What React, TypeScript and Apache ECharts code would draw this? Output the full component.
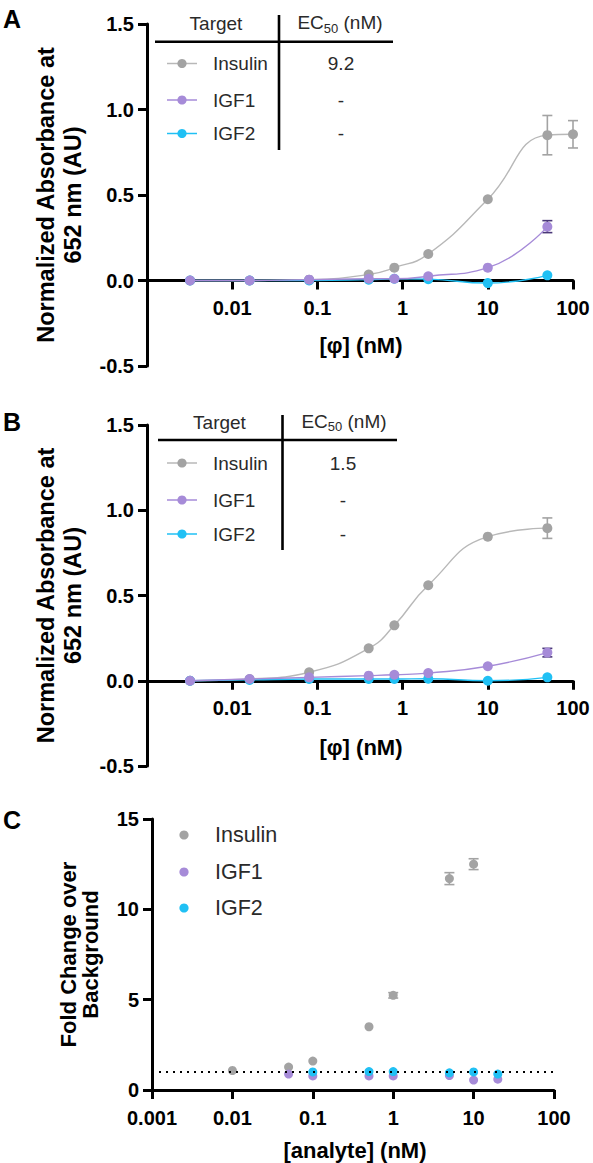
import React, { useEffect, useRef } from "react";
import * as echarts from "echarts";

// ---------- Panels A and B: absorbance dose–response ----------
const concAB = [0.0032, 0.016, 0.08, 0.4, 0.8, 2, 10, 50, 100];

const insulinA = [0.0, 0.0, 0.005, 0.035, 0.075, 0.155, 0.475, 0.85, 0.855];
const insulinAErr = [0, 0, 0, 0, 0, 0, 0, 0.115, 0.08];
const igf1A = [0.0, 0.0, 0.005, 0.01, 0.01, 0.025, 0.075, 0.315];
const igf1AErr = [0, 0, 0, 0, 0, 0, 0, 0.035];
const igf2A = [0.0, 0.0, 0.0, 0.005, 0.01, 0.008, -0.015, 0.03];

const insulinB = [0.0, 0.01, 0.05, 0.19, 0.325, 0.56, 0.845, 0.895];
const insulinBErr = [0, 0, 0, 0, 0, 0, 0, 0.06];
const igf1B = [0.0, 0.01, 0.02, 0.03, 0.035, 0.045, 0.085, 0.165];
const igf1BErr = [0, 0, 0, 0, 0, 0, 0, 0.025];
const igf2B = [0.0, 0.005, 0.01, 0.01, 0.01, 0.012, 0.0, 0.02];

const targets = ["Insulin", "IGF1", "IGF2"];
const ec50A = ["9.2", "-", "-"];
const ec50B = ["1.5", "-", "-"];

// ---------- Panel C: fold change ----------
const insulinCX = [0.01, 0.05, 0.1, 0.5, 1, 5, 10];
const insulinCY = [1.08, 1.27, 1.6, 3.5, 5.24, 11.7, 12.5];
const insulinCErr = [0, 0, 0, 0, 0.15, 0.33, 0.3];
const igf1CX = [0.05, 0.1, 0.5, 1, 5, 10, 20];
const igf1CY = [0.88, 0.78, 0.78, 0.78, 0.8, 0.55, 0.6];
const igf2CX = [0.1, 0.5, 1, 5, 10, 20];
const igf2CY = [1.0, 1.02, 1.02, 0.95, 1.0, 0.88];
const baseline = 1;

const absTicks = [-0.5, 0, 0.5, 1, 1.5];
const foldTicks = [0, 5, 10, 15];

const GRAY = "#a3a3a3";
const GRAY_LINE = "#b8b8b8";
const PURPLE = "#a68bd8";
const PURPLE_DARK = "#4a3878";
const BLUE = "#20c0f4";
const colors = [GRAY, PURPLE, BLUE];
const lineColors = [GRAY_LINE, PURPLE, BLUE];

const FONT = 'Arial, "Liberation Sans", Helvetica, sans-serif';

const pairs = (xs: number[], ys: number[]) => ys.map((y, i) => [xs[i], y]);
const errTriples = (xs: number[], ys: number[], es: number[]) =>
  ys.map((y, i) => [xs[i], y, es[i] || 0]).filter((d) => d[2] > 0);

const logLabel = (hideMin: boolean) => (v: number) => {
  if (hideMin && v < 0.0015) return "";
  return String(Number(v.toPrecision(2)));
};

function errorBars(idx: number, data: number[][], color: string) {
  return {
    type: "custom",
    xAxisIndex: idx,
    yAxisIndex: idx,
    data,
    encode: { x: 0, y: 1 },
    z: 1,
    renderItem: (_p: any, api: any) => {
      const x = api.value(0);
      const y = api.value(1);
      const e = api.value(2);
      const top = api.coord([x, y + e]);
      const bot = api.coord([x, y - e]);
      const hw = 5;
      const style = { stroke: color, lineWidth: 1.6 };
      return {
        type: "group",
        children: [
          { type: "line", shape: { x1: top[0], y1: top[1], x2: bot[0], y2: bot[1] }, style },
          { type: "line", shape: { x1: top[0] - hw, y1: top[1], x2: top[0] + hw, y2: top[1] }, style },
          { type: "line", shape: { x1: bot[0] - hw, y1: bot[1], x2: bot[0] + hw, y2: bot[1] }, style },
        ],
      };
    },
  };
}

function curve(idx: number, name: string, ys: number[], ci: number, z: number) {
  return {
    type: "line",
    name,
    xAxisIndex: idx,
    yAxisIndex: idx,
    data: pairs(concAB, ys),
    smooth: 0.5,
    symbol: "circle",
    symbolSize: 10,
    showSymbol: true,
    z,
    itemStyle: { color: colors[ci] },
    lineStyle: { color: lineColors[ci], width: 1.4 },
  };
}

function dots(name: string, xs: number[], ys: number[], ci: number, extra: any = {}) {
  return {
    type: "scatter",
    name,
    xAxisIndex: 2,
    yAxisIndex: 2,
    data: pairs(xs, ys),
    symbol: "circle",
    symbolSize: 9,
    z: 3,
    itemStyle: { color: colors[ci], opacity: 1 },
    ...extra,
  };
}

const axisCommon = {
  axisLine: { show: true, onZero: false, lineStyle: { color: "#000", width: 3 } },
  axisTick: { show: true, length: 9, lineStyle: { color: "#000", width: 3 } },
  splitLine: { show: false },
};

// offset lifts the axis from the bottom of the grid up to the y = 0 line
function logXAxis(gridIndex: number, hideMin: boolean, margin: number, offset: number) {
  return {
    gridIndex,
    type: "log",
    logBase: 10,
    min: 0.001,
    max: 100,
    offset,
    ...axisCommon,
    axisLabel: {
      formatter: logLabel(hideMin),
      fontFamily: FONT,
      fontSize: 20,
      fontWeight: "bold",
      color: "#000",
      margin,
    },
  };
}

function valueYAxis(gridIndex: number, ticks: number[], digits: number) {
  return {
    gridIndex,
    type: "value",
    min: ticks[0],
    max: ticks[ticks.length - 1],
    interval: ticks[1] - ticks[0],
    ...axisCommon,
    axisLabel: {
      formatter: (v: number) => v.toFixed(digits),
      fontFamily: FONT,
      fontSize: 20,
      fontWeight: "bold",
      color: "#000",
      margin: 13,
    },
  };
}

function legendTable(o: {
  tx: number; hy: number; hx1: number; hx2: number; vx: number; vy1: number; vy2: number;
  ecx: number; valx: number; rows: number[]; values: string[];
}) {
  const els: any[] = [];
  const txtStyle = (text: string, x: number, y: number, align: string) => ({
    type: "text",
    x,
    y,
    style: { text, fontFamily: FONT, fontSize: 19, fill: "#2a2a2a", align, verticalAlign: "middle" },
  });
  els.push(txtStyle("Target", o.tx, o.hy - 18, "center"));
  els.push({
    type: "text",
    x: o.ecx,
    y: o.hy - 19,
    style: {
      text: "{m|EC}{s|50}{m| (nM)}",
      align: "center",
      verticalAlign: "middle",
      rich: {
        m: { fontFamily: FONT, fontSize: 19, fill: "#2a2a2a", lineHeight: 24, verticalAlign: "middle" },
        s: { fontFamily: FONT, fontSize: 13, fill: "#2a2a2a", lineHeight: 24, verticalAlign: "bottom", padding: [6, 0, 0, 0] },
      },
    },
  });
  els.push({ type: "line", shape: { x1: o.hx1, y1: o.hy, x2: o.hx2, y2: o.hy }, style: { stroke: "#000", lineWidth: 2.6 } });
  els.push({ type: "line", shape: { x1: o.vx, y1: o.vy1, x2: o.vx, y2: o.vy2 }, style: { stroke: "#000", lineWidth: 2.6 } });
  o.rows.forEach((y, i) => {
    els.push({ type: "line", shape: { x1: 167, y1: y, x2: 197, y2: y }, style: { stroke: lineColors[i], lineWidth: 1.5 } });
    els.push({ type: "circle", shape: { cx: 182, cy: y, r: 4.6 }, style: { fill: colors[i] } });
    els.push(txtStyle(targets[i], 213, y, "left"));
    els.push(txtStyle(o.values[i], o.valx, y, "center"));
  });
  return els;
}

const titleText = (text: string, x: number, y: number, size: number, lh: number, rotate: boolean) => ({
  type: "text",
  x,
  y,
  rotation: rotate ? Math.PI / 2 : 0,
  style: {
    text,
    fontFamily: FONT,
    fontSize: size,
    fontWeight: "bold",
    fill: "#000",
    align: "center",
    verticalAlign: "middle",
    lineHeight: lh,
  },
});

const panelLetter = (text: string, y: number) => ({
  type: "text",
  x: 3,
  y,
  style: { text, fontFamily: FONT, fontSize: 25, fontWeight: "bold", fill: "#000", align: "left", verticalAlign: "top" },
});

const gridA = { left: 147, top: 24, width: 426, height: 342 };
const gridB = { left: 147, top: 425, width: 426, height: 341 };
const gridC = { left: 152, top: 819, width: 402, height: 271 };
// distance of y = 0 above the grid bottom for the −0.5…1.5 range
const zeroLift = (h: number) => -h * (0.5 / 2.0);

const option: any = {
  animation: false,
  backgroundColor: "#fff",
  grid: [gridA, gridB, gridC],
  xAxis: [
    logXAxis(0, true, 17, zeroLift(gridA.height)),
    logXAxis(1, true, 17, zeroLift(gridB.height)),
    logXAxis(2, false, 18, 0),
  ],
  yAxis: [valueYAxis(0, absTicks, 1), valueYAxis(1, absTicks, 1), valueYAxis(2, foldTicks, 0)],
  series: [
    // Panel A
    errorBars(0, errTriples(concAB, insulinA, insulinAErr), GRAY),
    errorBars(0, errTriples(concAB, igf1A, igf1AErr), PURPLE_DARK),
    curve(0, "Insulin", insulinA, 0, 2),
    curve(0, "IGF2", igf2A, 2, 3),
    curve(0, "IGF1", igf1A, 1, 4),
    // Panel B
    errorBars(1, errTriples(concAB, insulinB, insulinBErr), GRAY),
    errorBars(1, errTriples(concAB, igf1B, igf1BErr), PURPLE_DARK),
    curve(1, "Insulin", insulinB, 0, 2),
    curve(1, "IGF2", igf2B, 2, 3),
    curve(1, "IGF1", igf1B, 1, 4),
    // Panel C
    errorBars(2, errTriples(insulinCX, insulinCY, insulinCErr), GRAY),
    dots("Insulin", insulinCX, insulinCY, 0, {
      markLine: {
        silent: true,
        symbol: "none",
        label: { show: false },
        lineStyle: { color: "#000", width: 2, type: [2, 5] },
        data: [{ yAxis: baseline }],
      },
    }),
    dots("IGF1", igf1CX, igf1CY, 1),
    dots("IGF2", igf2CX, igf2CY, 2),
  ],
  graphic: [
    panelLetter("A", 6),
    panelLetter("B", 409),
    panelLetter("C", 807),
    titleText("Normalized Absorbance at\n652 nm (AU)", 59.5, 195, 23.5, 27, true),
    titleText("Normalized Absorbance at\n652 nm (AU)", 59.5, 595.5, 23.5, 27, true),
    titleText("Fold Change over\nBackground", 79, 954.5, 22, 22, true),
    titleText("[φ] (nM)", 361, 345, 22, 24, false),
    titleText("[φ] (nM)", 361, 747, 22, 24, false),
    titleText("[analyte] (nM)", 355, 1150, 22, 24, false),
    ...legendTable({
      tx: 216, hy: 41.7, hx1: 155, hx2: 393, vx: 279, vy1: 15, vy2: 150,
      ecx: 340, valx: 341, rows: [63.5, 100, 133.5], values: ec50A,
    }),
    ...legendTable({
      tx: 219.5, hy: 440, hx1: 158, hx2: 397, vx: 282.5, vy1: 415, vy2: 550,
      ecx: 344, valx: 343, rows: [463, 500, 534], values: ec50B,
    }),
    ...[835, 872, 908].flatMap((y, i) => [
      { type: "circle", shape: { cx: 184, cy: y, r: 4.6 }, style: { fill: colors[i] } },
      {
        type: "text",
        x: 215,
        y,
        style: { text: targets[i], fontFamily: FONT, fontSize: 21.5, fill: "#2a2a2a", align: "left", verticalAlign: "middle" },
      },
    ]),
  ],
};

export default function App() {
  const ref = useRef<HTMLDivElement>(null);
  useEffect(() => {
    if (!ref.current) return;
    const chart = echarts.init(ref.current, null, { renderer: "svg" });
    chart.setOption(option);
    return () => chart.dispose();
  }, []);
  return (
    <div
      ref={ref}
      style={{ position: "absolute", left: 0, top: 0, width: 593, height: 1163, background: "#fff" }}
    />
  );
}
